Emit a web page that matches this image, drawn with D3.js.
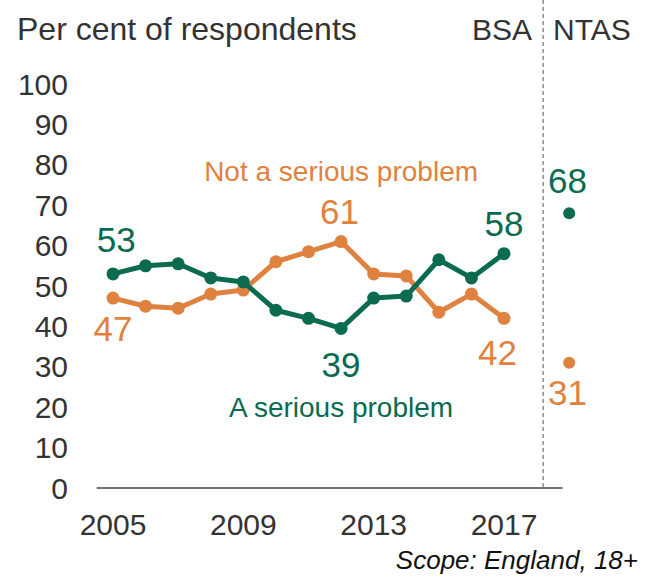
<!DOCTYPE html>
<html>
<head>
<meta charset="utf-8">
<script src="https://cdn.jsdelivr.net/npm/d3@7"></script>
<style>
  body { margin: 0; background: #fff; }
  svg text { font-family: "Liberation Sans", Arial, sans-serif; }
</style>
</head>
<body>
<div id="chart"></div>
<script>
// BSA survey years, plus the single NTAS point
const years = [2005, 2006, 2007, 2008, 2009, 2010, 2011, 2012, 2013, 2014, 2015, 2016, 2017];
const serious = [53, 55, 55.5, 52, 51, 44, 42, 39.5, 47, 47.5, 56.5, 52, 58];
const notSerious = [47, 45, 44.5, 48, 49, 56, 58.5, 61, 53, 52.5, 43.5, 48, 42];
const ntasYear = 2019;
const ntasSerious = 68;
const ntasNotSerious = 31;
const yTicks = [0, 10, 20, 30, 40, 50, 60, 70, 80, 90, 100];
const xTicks = [2005, 2009, 2013, 2017];

const green = '#0a6b4f', orange = '#e0823f', grey = '#333';

const width = 654, height = 578;
const svg = d3.select('#chart').append('svg')
    .attr('width', width)
    .attr('height', height);

const x = d3.scaleLinear().domain([2005, 2017]).range([113, 504]);
const y = d3.scaleLinear().domain([0, 100]).range([488, 84]);

// y tick labels (no axis line)
svg.append('g').selectAll('text')
    .data(yTicks).enter().append('text')
    .attr('x', 68)
    .attr('y', d => y(d))
    .attr('dy', '0.35em')
    .attr('text-anchor', 'end')
    .attr('font-size', 30)
    .attr('fill', grey)
    .text(d => d);

// x axis baseline
svg.append('line')
    .attr('x1', x(2004.5)).attr('x2', x(2018.8))
    .attr('y1', y(0)).attr('y2', y(0))
    .attr('stroke', '#444').attr('stroke-width', 1.5);

svg.append('g').selectAll('text')
    .data(xTicks).enter().append('text')
    .attr('x', d => x(d))
    .attr('y', 535)
    .attr('text-anchor', 'middle')
    .attr('font-size', 30)
    .attr('fill', grey)
    .text(d => d);

// BSA / NTAS divider
svg.append('line')
    .attr('x1', x(2018.2)).attr('x2', x(2018.2))
    .attr('y1', 0).attr('y2', y(0))
    .attr('stroke', '#555').attr('stroke-width', 1)
    .attr('stroke-dasharray', '4,3');

svg.append('text').attr('x', 17).attr('y', 40)
    .attr('font-size', 32).attr('fill', grey)
    .text('Per cent of respondents');
svg.append('text').attr('x', x(2018.2) - 11).attr('y', 40)
    .attr('text-anchor', 'end')
    .attr('font-size', 30).attr('fill', grey)
    .text('BSA');
svg.append('text').attr('x', x(2018.2) + 10).attr('y', 40)
    .attr('font-size', 30).attr('fill', grey)
    .text('NTAS');

const line = d3.line().x((d, i) => x(years[i])).y(d => y(d));

function drawSeries(vals, colour) {
    svg.append('path')
        .attr('d', line(vals))
        .attr('fill', 'none')
        .attr('stroke', colour)
        .attr('stroke-width', 5)
        .attr('stroke-linejoin', 'round');
    svg.append('g').selectAll('circle')
        .data(vals).enter().append('circle')
        .attr('cx', (d, i) => x(years[i]))
        .attr('cy', d => y(d))
        .attr('r', 6.5)
        .attr('fill', colour);
}
drawSeries(notSerious, orange);
drawSeries(serious, green);

svg.append('circle').attr('cx', x(ntasYear)).attr('cy', y(ntasSerious))
    .attr('r', 6).attr('fill', green);
svg.append('circle').attr('cx', x(ntasYear)).attr('cy', y(ntasNotSerious))
    .attr('r', 6).attr('fill', orange);

// value labels
function label(text, xv, yv, colour, size) {
    svg.append('text')
        .attr('x', x(xv)).attr('y', y(yv))
        .attr('dy', '0.35em')
        .attr('text-anchor', 'middle')
        .attr('font-size', size)
        .attr('fill', colour)
        .text(text);
}
label(serious[0], 2005.1, 61.5, green, 35);
label(notSerious[0], 2005, 39.5, orange, 35);
label(notSerious[7], 2011.95, 68.5, orange, 35);
label(39, 2012, 30.5, green, 35);
label(serious[12], 2017, 65.5, green, 35);
label(notSerious[12], 2016.8, 33.5, orange, 35);
label(ntasSerious, 2018.95, 76, green, 35);
label(ntasNotSerious, 2018.95, 23.5, orange, 35);

label('Not a serious problem', 2012, 78.5, orange, 28);
label('A serious problem', 2012, 20, green, 28);

svg.append('text').attr('x', 638).attr('y', 569)
    .attr('text-anchor', 'end')
    .attr('font-size', 26)
    .attr('font-style', 'italic')
    .attr('fill', '#111')
    .text('Scope: England, 18+');
</script>
</body>
</html>
